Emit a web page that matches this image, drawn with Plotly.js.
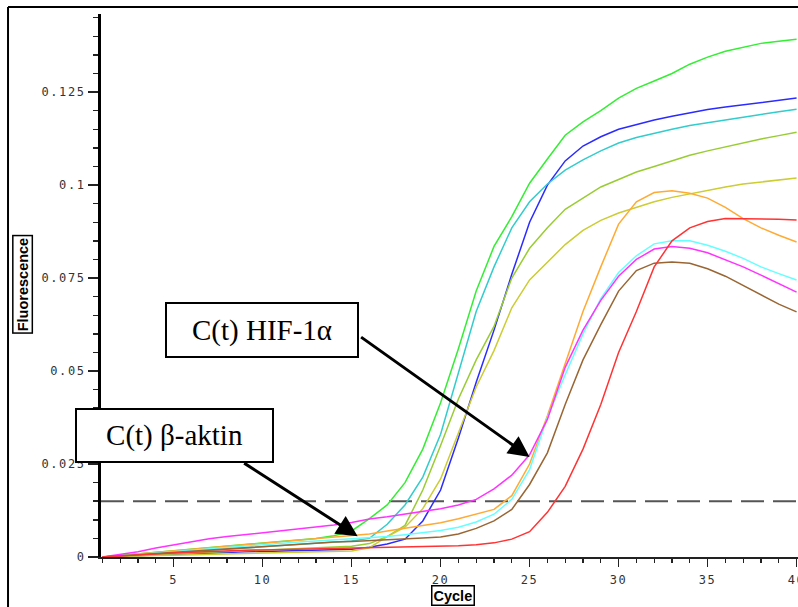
<!DOCTYPE html>
<html>
<head>
<meta charset="utf-8">
<script src="https://cdn.plot.ly/plotly-3.0.1.min.js"></script>
<style>
  html, body { margin: 0; padding: 0; background: #fff; }
  #chart { width: 798px; height: 607px; }
  .xtick text, .ytick text { letter-spacing: 1.6px; }
</style>
</head>
<body>
<div id="chart"></div>
<script>
// ---- data ----
var cycles = [1,2,3,4,5,6,7,8,9,10,11,12,13,14,15,16,17,18,19,20,21,22,23,24,25,26,27,28,29,30,31,32,33,34,35,36,37,38,39,40];

var greenSeries = [0,0.0004,0.0008,0.0012,0.0016,0.002,0.0024,0.0028,0.0032,0.0036,0.004,0.0045,0.005,0.0057,0.0070,0.0103,0.0140,0.020,0.029,0.0415,0.056,0.0715,0.0835,0.0915,0.1005,0.107,0.1134,0.117,0.120,0.1234,0.126,0.128,0.130,0.1325,0.1344,0.136,0.137,0.1381,0.1387,0.1392];
var blueSeries = [0,0.0002,0.0004,0.0006,0.0008,0.001,0.0012,0.0013,0.0014,0.0015,0.0016,0.0017,0.0018,0.0019,0.0021,0.0026,0.0035,0.0048,0.0097,0.018,0.032,0.047,0.061,0.076,0.090,0.100,0.1065,0.1105,0.113,0.115,0.1163,0.1175,0.1185,0.1195,0.1203,0.121,0.1216,0.1222,0.1228,0.1234];
var tealSeries = [0,0.0003,0.0006,0.0009,0.0012,0.0015,0.0018,0.0021,0.0024,0.0027,0.003,0.0033,0.0036,0.0039,0.0043,0.005,0.0088,0.014,0.0215,0.033,0.0495,0.066,0.078,0.0885,0.0955,0.1003,0.104,0.1068,0.1092,0.1113,0.1128,0.114,0.115,0.116,0.1168,0.1175,0.1183,0.119,0.1197,0.1204];
var yellowGreenSeries = [0,0.0002,0.0004,0.0006,0.0008,0.001,0.0012,0.0014,0.0016,0.0018,0.002,0.0022,0.0024,0.0026,0.0029,0.0036,0.0055,0.0085,0.018,0.030,0.0425,0.053,0.062,0.075,0.083,0.0885,0.0935,0.0965,0.0995,0.1015,0.1035,0.105,0.1065,0.108,0.1092,0.1103,0.1113,0.1124,0.1133,0.1142];
var yellowSeries = [0,0.0002,0.0003,0.0004,0.0005,0.0006,0.0007,0.0008,0.0009,0.001,0.0011,0.0012,0.0013,0.0014,0.0016,0.0025,0.0055,0.008,0.013,0.021,0.0335,0.0457,0.0555,0.067,0.0745,0.0792,0.084,0.0878,0.0905,0.0925,0.0941,0.0955,0.0967,0.0977,0.0986,0.0995,0.1003,0.1008,0.1014,0.1019];
var orangeSeries = [0,0.0004,0.0008,0.0012,0.0016,0.002,0.0024,0.0028,0.0032,0.0036,0.004,0.0044,0.0048,0.0052,0.0058,0.0062,0.007,0.0078,0.0085,0.0092,0.0103,0.0115,0.0128,0.0165,0.025,0.038,0.052,0.066,0.078,0.0895,0.0955,0.098,0.0985,0.0978,0.0965,0.094,0.091,0.0885,0.0865,0.0847];
var lightCyanSeries = [0,0.0003,0.0007,0.001,0.0014,0.0018,0.0022,0.0026,0.003,0.0033,0.0037,0.004,0.0043,0.0046,0.0048,0.005,0.0055,0.006,0.0065,0.0071,0.008,0.0094,0.0115,0.0155,0.0235,0.0375,0.049,0.060,0.0695,0.0765,0.081,0.0842,0.085,0.085,0.0838,0.0822,0.0803,0.078,0.0762,0.0745];
var magentaSeries = [0,0.0007,0.0014,0.0024,0.0033,0.0042,0.0049,0.0055,0.006,0.0066,0.0071,0.0076,0.0081,0.0086,0.0093,0.0102,0.0108,0.0115,0.0122,0.013,0.014,0.0155,0.0183,0.022,0.0275,0.037,0.051,0.061,0.069,0.0755,0.080,0.0828,0.0835,0.083,0.0818,0.080,0.078,0.0758,0.0735,0.0712];
var brownSeries = [0,0.0003,0.0007,0.001,0.0014,0.0017,0.002,0.0023,0.0026,0.0029,0.0032,0.0035,0.0037,0.004,0.0042,0.0044,0.0046,0.0049,0.0051,0.0054,0.0062,0.0077,0.0097,0.0128,0.0195,0.028,0.041,0.053,0.0625,0.0715,0.077,0.079,0.0793,0.079,0.0775,0.0755,0.073,0.0705,0.068,0.0659];
var redSeries = [0,0.0003,0.0006,0.0009,0.0011,0.0013,0.0015,0.0016,0.0018,0.0019,0.002,0.0021,0.0022,0.0023,0.0024,0.0025,0.0026,0.0026,0.0027,0.0028,0.003,0.0033,0.0038,0.0048,0.0068,0.012,0.019,0.029,0.041,0.055,0.066,0.078,0.085,0.0885,0.0902,0.091,0.091,0.091,0.0908,0.0906];

var seriesList = [greenSeries, blueSeries, tealSeries, yellowGreenSeries, yellowSeries, orangeSeries, lightCyanSeries, magentaSeries, brownSeries, redSeries];
var seriesColors = ['#33ee33', '#2b2bff', '#33cccc', '#99cc33', '#cccc33', '#ffaa33', '#66ffff', '#ff33ff', '#996633', '#ff3333'];

var xTickVals = [5, 10, 15, 20, 25, 30, 35, 40];
var threshold = 0.015;
var labelHIF = 'C(t) HIF-1α';
var labelActin = 'C(t) β-aktin';
var xTitle = 'Cycle';
var yTitle = 'Fluorescence';

// ---- traces ----
var traces = seriesList.map(function (s, i) {
  return {
    x: cycles, y: s, type: 'scatter', mode: 'lines',
    line: { color: seriesColors[i], width: 1.5 },
    hoverinfo: 'skip'
  };
});

var tickFont = { family: 'DejaVu Sans Mono, monospace', size: 12, color: '#333' };
var boxFont = { family: 'Liberation Serif, serif', size: 29, color: '#000' };
var titleFont = { family: 'Liberation Sans, Arial, sans-serif', size: 14.5, color: '#000' };

var layout = {
  width: 798, height: 607,
  margin: { l: 101, r: 0, t: 14, b: 50 },
  paper_bgcolor: '#fff', plot_bgcolor: '#fff',
  showlegend: false,
  xaxis: {
    range: [0.92, 40.08],
    showgrid: false, zeroline: false,
    showline: true, linecolor: '#222', linewidth: 1.5,
    ticks: 'outside', ticklen: 8, tickwidth: 1.2, tickcolor: '#222',
    tickmode: 'array', tickvals: xTickVals,
    ticklabeloverflow: 'allow', ticklabelstandoff: 3,
    minor: { dtick: 1, tick0: 0, ticks: 'outside', ticklen: 4.5, tickwidth: 1.2, tickcolor: '#222', showgrid: false },
    tickfont: tickFont
  },
  yaxis: {
    range: [0, 0.146],
    showgrid: false, zeroline: false,
    showline: true, linecolor: '#000', linewidth: 3,
    ticks: 'outside', ticklen: 10, tickwidth: 1.5, tickcolor: '#222',
    tick0: 0, dtick: 0.025,
    minor: { dtick: 0.005, tick0: 0, ticks: 'outside', ticklen: 5, tickwidth: 1.5, tickcolor: '#222', showgrid: false },
    tickfont: tickFont
  },
  shapes: [
    { type: 'line', xref: 'paper', yref: 'y', x0: 0, x1: 1, y0: threshold, y1: threshold,
      line: { color: '#555', width: 2, dash: '23px,9px' }, layer: 'below' },
    { type: 'line', xref: 'paper', yref: 'paper', x0: -0.1334, x1: -0.1334, y0: -0.12, y1: 1.0129,
      line: { color: '#000', width: 2 } },
    { type: 'line', xref: 'paper', yref: 'paper', x0: -0.1334, x1: 1.02, y0: 1.0129, y1: 1.0129,
      line: { color: '#000', width: 2 } }
  ],
  annotations: [
    // arrows
    { xref: 'x', yref: 'y', axref: 'x', ayref: 'y', x: 25.0, y: 0.0269, ax: 15.45, ay: 0.0594,
      text: '', showarrow: true, arrowhead: 2, arrowsize: 1.4, arrowwidth: 3, arrowcolor: '#000', standoff: 0, startstandoff: 0 },
    { xref: 'x', yref: 'y', axref: 'x', ayref: 'y', x: 15.34, y: 0.0056, ax: 8.88, ay: 0.0255,
      text: '', showarrow: true, arrowhead: 2, arrowsize: 1.4, arrowwidth: 3, arrowcolor: '#000', standoff: 0, startstandoff: 0 },
    // label boxes
    { xref: 'paper', yref: 'paper', x: 0.231, y: 0.418, xanchor: 'center', yanchor: 'middle',
      text: labelHIF, showarrow: false, font: boxFont, bgcolor: '#fff', bordercolor: '#000', borderwidth: 2, borderpad: 1,
      width: 188, height: 50 },
    { xref: 'paper', yref: 'paper', x: 0.1055, y: 0.2238, xanchor: 'center', yanchor: 'middle',
      text: labelActin, showarrow: false, font: boxFont, bgcolor: '#fff', bordercolor: '#000', borderwidth: 2, borderpad: 1,
      width: 193, height: 49 },
    // axis titles in boxes
    { xref: 'paper', yref: 'paper', x: -0.112, y: 0.503, xanchor: 'center', yanchor: 'middle', textangle: -90,
      text: '<b>' + yTitle + '</b>', showarrow: false, font: titleFont, bgcolor: '#fff',
      bordercolor: '#000', borderwidth: 1.5, borderpad: 1 },
    { xref: 'paper', yref: 'paper', x: 0.505, y: -0.0718, xanchor: 'center', yanchor: 'middle',
      text: '<b>' + xTitle + '</b>', showarrow: false, font: titleFont, bgcolor: '#fff',
      bordercolor: '#000', borderwidth: 1.5, borderpad: 1 }
  ]
};

Plotly.newPlot('chart', traces, layout, { displayModeBar: false, staticPlot: true });
</script>
</body>
</html>
